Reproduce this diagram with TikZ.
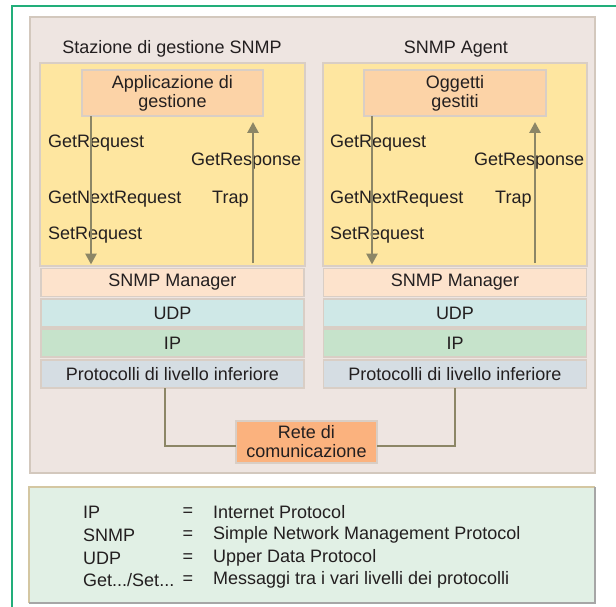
\documentclass[tikz,border=0pt]{standalone}
\usepackage{fontspec}
\setmainfont{Liberation Sans}
\usetikzlibrary{arrows.meta,positioning,calc}
\definecolor{frameg}{HTML}{22AE7A}
\definecolor{panelfill}{HTML}{EEE5E1}
\definecolor{paneldraw}{HTML}{D3C8BD}
\definecolor{yellowfill}{HTML}{FEE6A0}
\definecolor{boxdraw}{HTML}{D9CEC5}
\definecolor{appfill}{HTML}{FCD3A7}
\definecolor{mgrfill}{HTML}{FDE3CC}
\definecolor{udpfill}{HTML}{CFE8E7}
\definecolor{ipfill}{HTML}{C6E3CB}
\definecolor{protfill}{HTML}{D5DDE3}
\definecolor{retefill}{HTML}{FBB27E}
\definecolor{legfill}{HTML}{E1F0E5}
\definecolor{legtan}{HTML}{D4C7A2}
\definecolor{leggray}{HTML}{A6A6A6}
\definecolor{arrc}{HTML}{8C8666}
\definecolor{txt}{HTML}{231F20}
\begin{document}
\begin{tikzpicture}[x=1pt,y=-1pt,
  every node/.style={text=txt,font=\fontsize{18}{19}\selectfont},
  box/.style={rectangle,draw=boxdraw,line width=1.5pt,inner sep=0pt,outer sep=0pt,align=center},
  band/.style={box,minimum width=263pt,minimum height=28pt},
  lbl/.style={anchor=west,inner sep=0pt},
  arr/.style={draw=arrc,line width=2.7pt,-{Triangle[width=11pt,length=11pt]}},
  conn/.style={draw=arrc,line width=2.3pt}]
\useasboundingbox (0,0) rectangle (616,607);
\fill[white] (0,0) rectangle (616,607);
% green frame
\draw[frameg,line width=1.5pt] (12,607) -- (12,6) -- (616,6);
% big panel
\draw[paneldraw,fill=panelfill,line width=1.5pt] (30,17) rectangle (595,473);
\node (t1) at (172,49) {Stazione di gestione SNMP};
\node (t2) at (456,49) {SNMP Agent};
% yellow panels
\node[box,fill=yellowfill,minimum width=265pt,minimum height=203pt] (y1) at (172.5,164.5) {};
\node[box,fill=yellowfill,minimum width=264pt,minimum height=203pt] (y2) at (455,164.5) {};
% app boxes
\node[box,fill=appfill,minimum width=181pt,minimum height=46pt] (app1) at (172.5,93) {Applicazione di\\gestione};
\node[box,fill=appfill,minimum width=182pt,minimum height=46pt] (app2) at (455,93) {Oggetti\\gestiti};
% bands left
\node[band,fill=mgrfill] (mgr1) at (172.5,282.5) {SNMP Manager};
\node[band,fill=udpfill] (udp1) at (172.5,313) {UDP};
\node[band,fill=ipfill] (ip1) at (172.5,343) {IP};
\node[band,fill=protfill] (prot1) at (172.5,374) {Protocolli di livello inferiore};
% bands right
\node[band,fill=mgrfill] (mgr2) at (455,282.5) {SNMP Manager};
\node[band,fill=udpfill] (udp2) at (455,313) {UDP};
\node[band,fill=ipfill] (ip2) at (455,343) {IP};
\node[band,fill=protfill] (prot2) at (455,374) {Protocolli di livello inferiore};
% labels left
\node[lbl] (gr1) at (48,143) {GetRequest};
\node[lbl] (gresp1) at (191,161) {GetResponse};
\node[lbl] (gn1) at (48,199) {GetNextRequest};
\node[lbl] (tr1) at (212,199) {Trap};
\node[lbl] (sr1) at (48,235) {SetRequest};
% labels right
\node[lbl] (gr2) at (330,143) {GetRequest};
\node[lbl] (gresp2) at (474,161) {GetResponse};
\node[lbl] (gn2) at (330,199) {GetNextRequest};
\node[lbl] (tr2) at (495,199) {Trap};
\node[lbl] (sr2) at (330,235) {SetRequest};
% arrows
\coordinate (la1) at (91,0);
\coordinate (ra1) at (253,263);
\coordinate (la2) at (372,0);
\coordinate (ra2) at (535,263);
\draw[arr,shorten >=4pt] (app1.south -| la1) -- (mgr1.north -| la1);
\draw[arr,shorten >=6pt] (ra1) -- (app1.south -| ra1);
\draw[arr,shorten >=4pt] (app2.south -| la2) -- (mgr2.north -| la2);
\draw[arr,shorten >=6pt] (ra2) -- (app2.south -| ra2);
% network
\node[box,fill=retefill,minimum width=141pt,minimum height=42pt] (rete) at (306.5,442) {Rete di\\comunicazione};
\coordinate (cl) at (165,0);
\coordinate (cr) at (455,0);
\draw[conn] (prot1.south -| cl) |- ($(rete.west)+(0,4)$);
\draw[conn] ($(rete.east)+(0,4)$) -| (prot2.south -| cr);
% legend
\fill[legfill] (29,487) rectangle (595,603);
\draw[legtan,line width=1.5pt] (29,603) -- (29,487) -- (595,487);
\draw[leggray,line width=2.2pt] (29,603) -- (595,603) -- (595,487);
\node[lbl] (k1) at (83,512) {IP};
\node[lbl] (k2) at (83,535) {SNMP};
\node[lbl] (k3) at (83,558) {UDP};
\node[lbl] (k4) at (83,580) {Get.../Set...};
\node (e1) at (188,512) {=};
\node (e2) at (188,535) {=};
\node (e3) at (188,558) {=};
\node (e4) at (188,580) {=};
\node[lbl] (v1) at (213,512) {Internet Protocol};
\node[lbl] (v2) at (213,535) {Simple Network Management Protocol};
\node[lbl] (v3) at (213,558) {Upper Data Protocol};
\node[lbl] (v4) at (213,580) {Messaggi tra i vari livelli dei protocolli};
\end{tikzpicture}
\end{document}
